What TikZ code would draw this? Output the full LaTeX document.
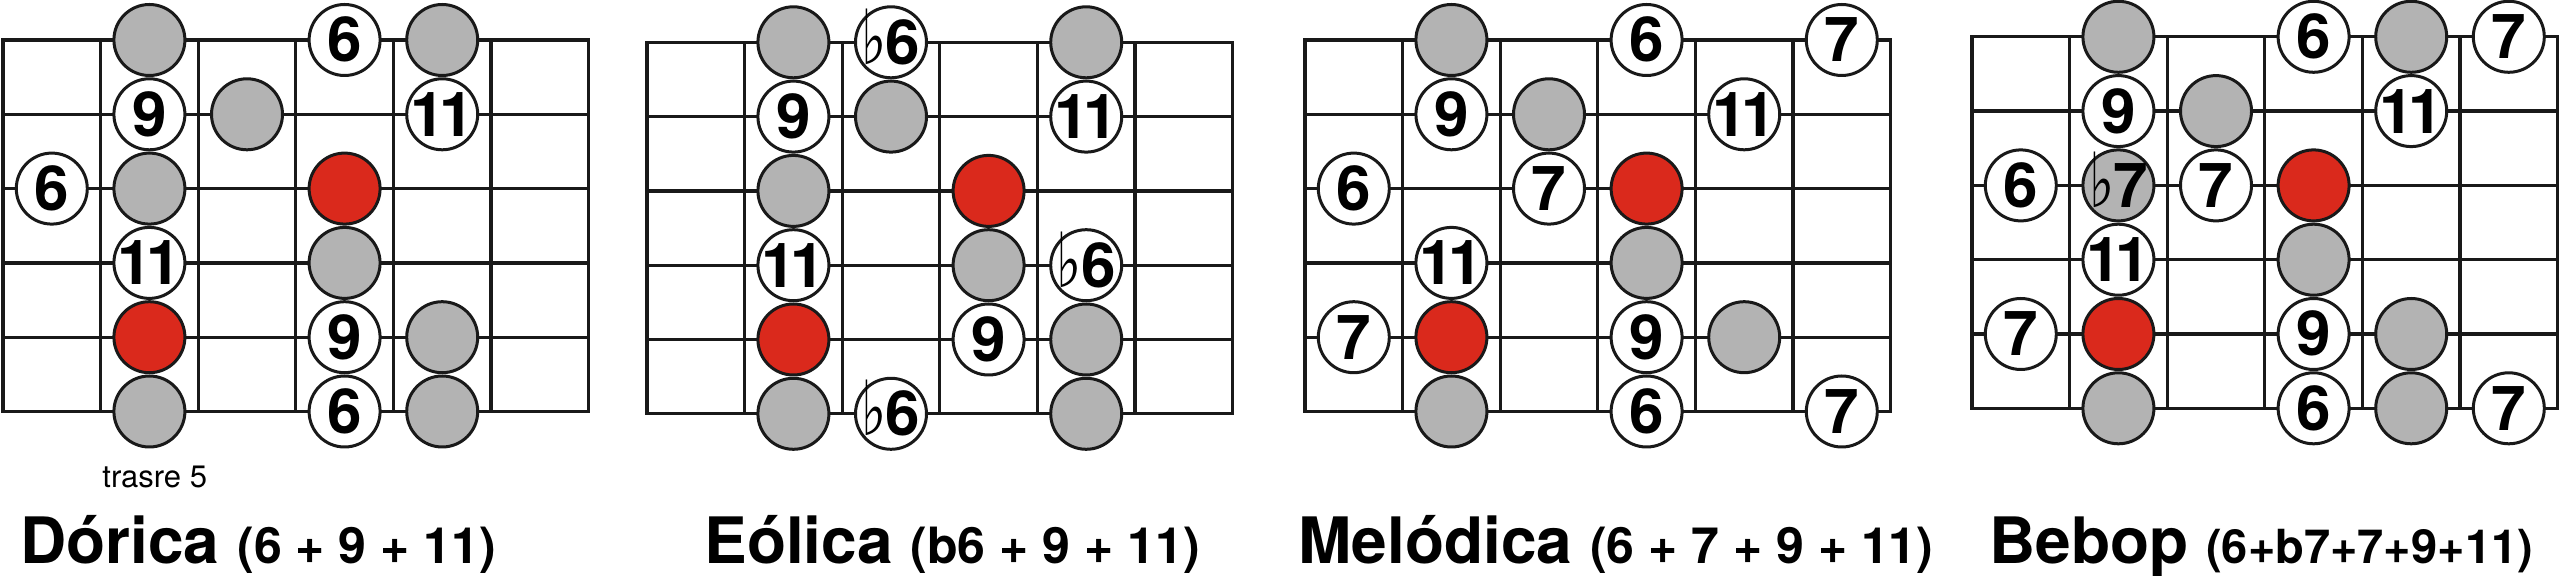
\documentclass[tikz,border=0pt]{standalone}
\usepackage{fontspec}
\setmainfont{TeX Gyre Heros}
\newfontfamily\musicfont{DejaVu Sans}
\usepackage{xcolor}
\usepackage{tikz}
\usetikzlibrary{calc}

\definecolor{notegray}{RGB}{179,179,179}
\definecolor{rootred}{RGB}{218,41,28}
\newcommand{\flatnum}[1]{{\musicfont\mdseries\fontsize{38}{38}\selectfont\scalebox{0.7}[1]{♭}}\kern-0.5pt#1}
\newcommand{\eleven}{1\kern-3pt1}

\begin{document}
\begin{tikzpicture}[x=0.5pt,y=-0.5pt,line join=miter]
  \tikzstyle{fret}=[line width=1.65pt, draw=black!90]
  \tikzstyle{note}=[circle, draw=black!90, line width=1.5pt, minimum size=35.5pt,
                    inner sep=0pt, text height=22pt, text depth=0pt,
                    font=\fontsize{31}{31}\selectfont\bfseries]
  \tikzstyle{grey}=[note, fill=notegray]
  \tikzstyle{root}=[note, fill=rootred]
  \tikzstyle{num}=[note, fill=white]
  \tikzstyle{title}=[anchor=base west, inner sep=0pt, font=\fontsize{32}{36}\selectfont\bfseries]
  \useasboundingbox (0,0) rectangle (2560,576);

  % Dorica
  \begin{scope}[shift={(3,40)},x=48.8pt,y=-37.15pt]
    \draw[fret] (0,0) rectangle (6,5);
    \foreach \f in {1,...,5} \draw[fret] (\f,0) -- (\f,5);
    \foreach \s in {1,...,4} \draw[fret] (0,\s) -- (6,\s);
    \foreach \c/\s/\t/\l [count=\i] in {1/2/num/6,
        2/0/grey/{}, 2/1/num/9, 2/2/grey/{}, 2/3/num/\eleven, 2/4/root/{}, 2/5/grey/{},
        3/1/grey/{},
        4/0/num/6, 4/2/root/{}, 4/3/grey/{}, 4/4/num/9, 4/5/num/6,
        5/0/grey/{}, 5/1/num/\eleven, 5/4/grey/{}, 5/5/grey/{}}
      \node[\t] (dor\i) at (\c-0.5,\s) {\makebox[0pt]{\l}};
  \end{scope}
  \node[anchor=base west, inner sep=0pt, font=\fontsize{15.5}{18}\selectfont] (dorpos) at (102,488) {trasre 5};
  \node[title] (dortitle) at (20,564) {Dórica {\fontsize{25}{30}\selectfont(6 + 9 + 11)}};

  % Eolica
  \begin{scope}[shift={(647,42.3)},x=48.8pt,y=-37.15pt]
    \draw[fret] (0,0) rectangle (6,5);
    \foreach \f in {1,...,5} \draw[fret] (\f,0) -- (\f,5);
    \foreach \s in {1,...,4} \draw[fret] (0,\s) -- (6,\s);
    \foreach \c/\s/\t/\l [count=\i] in {
        2/0/grey/{}, 2/1/num/9, 2/2/grey/{}, 2/3/num/\eleven, 2/4/root/{}, 2/5/grey/{},
        3/0/num/\flatnum{6}, 3/1/grey/{}, 3/5/num/\flatnum{6},
        4/2/root/{}, 4/3/grey/{}, 4/4/num/9,
        5/0/grey/{}, 5/1/num/\eleven, 5/3/num/\flatnum{6}, 5/4/grey/{}, 5/5/grey/{}}
      \node[\t] (eol\i) at (\c-0.5,\s) {\makebox[0pt]{\l}};
  \end{scope}
  \node[title] (eoltitle) at (704,564) {Eólica {\fontsize{25}{30}\selectfont(b6 + 9 + 11)}};

  % Melodica
  \begin{scope}[shift={(1305,40)},x=48.8pt,y=-37.15pt]
    \draw[fret] (0,0) rectangle (6,5);
    \foreach \f in {1,...,5} \draw[fret] (\f,0) -- (\f,5);
    \foreach \s in {1,...,4} \draw[fret] (0,\s) -- (6,\s);
    \foreach \c/\s/\t/\l [count=\i] in {1/2/num/6, 1/4/num/7,
        2/0/grey/{}, 2/1/num/9, 2/3/num/\eleven, 2/4/root/{}, 2/5/grey/{},
        3/1/grey/{}, 3/2/num/7,
        4/0/num/6, 4/2/root/{}, 4/3/grey/{}, 4/4/num/9, 4/5/num/6,
        5/1/num/\eleven, 5/4/grey/{},
        6/0/num/7, 6/5/num/7}
      \node[\t] (mel\i) at (\c-0.5,\s) {\makebox[0pt]{\l}};
  \end{scope}
  \node[title] (meltitle) at (1298,564) {Melódica {\fontsize{25}{30}\selectfont(6 + 7 + 9 + 11)}};

  % Bebop
  \begin{scope}[shift={(1972,36.8)},x=48.8pt,y=-37.15pt]
    \draw[fret] (0,0) rectangle (6,5);
    \foreach \f in {1,...,5} \draw[fret] (\f,0) -- (\f,5);
    \foreach \s in {1,...,4} \draw[fret] (0,\s) -- (6,\s);
    \foreach \c/\s/\t/\l [count=\i] in {1/2/num/6, 1/4/num/7,
        2/0/grey/{}, 2/1/num/9, 2/2/grey/\flatnum{7}, 2/3/num/\eleven, 2/4/root/{}, 2/5/grey/{},
        3/1/grey/{}, 3/2/num/7,
        4/0/num/6, 4/2/root/{}, 4/3/grey/{}, 4/4/num/9, 4/5/num/6,
        5/0/grey/{}, 5/1/num/\eleven, 5/4/grey/{}, 5/5/grey/{},
        6/0/num/7, 6/5/num/7}
      \node[\t] (beb\i) at (\c-0.5,\s) {\makebox[0pt]{\l}};
  \end{scope}
  \node[title] (bebtitle) at (1989,564) {Bebop {\fontsize{23.5}{30}\selectfont(6+b7+7+9+11)}};
\end{tikzpicture}
\end{document}
